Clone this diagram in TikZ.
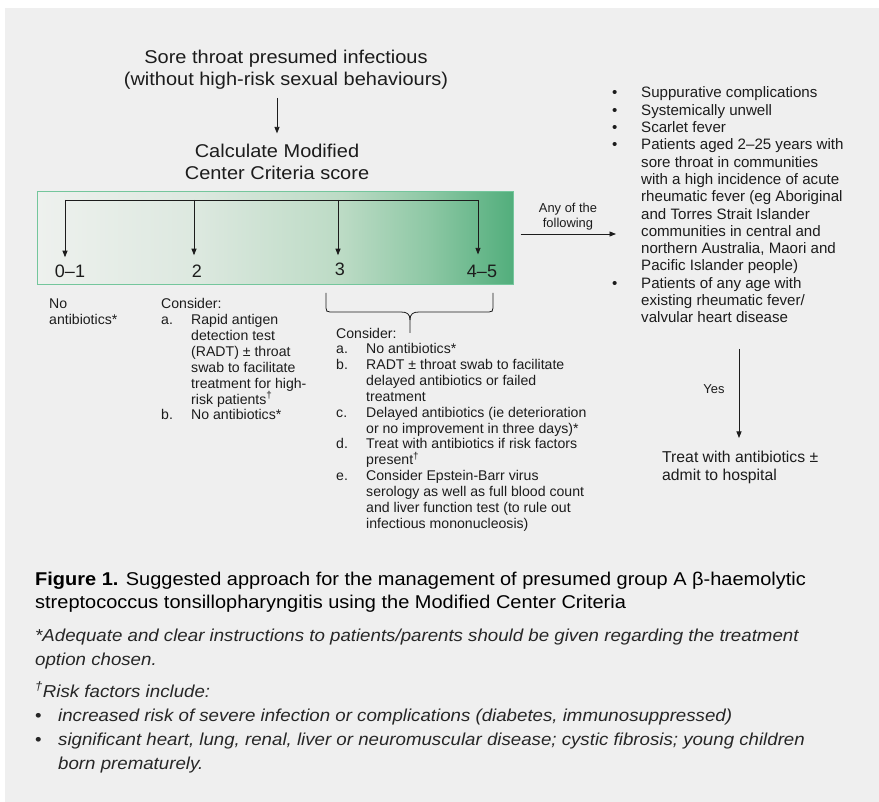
\documentclass[tikz,border=0pt]{standalone}
\usepackage{fontspec}
\setmainfont{Liberation Sans}
\newfontfamily\widefont[FakeStretch=1.08]{Liberation Sans}
\usetikzlibrary{arrows.meta}
\definecolor{bg}{HTML}{EFEFEF}
\definecolor{ink}{HTML}{1C1C1C}
\definecolor{gborder}{HTML}{74C69C}
\definecolor{gA}{HTML}{EEF1EE}
\definecolor{gB}{HTML}{DCE8DF}
\definecolor{gC}{HTML}{BCDBC5}
\definecolor{gD}{HTML}{8EC8A5}
\definecolor{gE}{HTML}{52AE7C}
\pgfdeclarehorizontalshading{greenfade}{100bp}{color(0bp)=(gA); color(25bp)=(gA); color(42bp)=(gB); color(57bp)=(gC); color(66bp)=(gD); color(75bp)=(gE); color(100bp)=(gE)}
\begin{document}
\begin{tikzpicture}[x=1pt,y=-1pt,
  every node/.style={inner sep=0pt, text=ink},
  arr/.style={-{Triangle[width=5pt,length=6.5pt]}, line width=0.8pt, draw=ink},
  lt/.style={anchor=base west, align=left},
  big/.style={font=\widefont\fontsize{18.5}{21.8}\selectfont},
  score/.style={font=\fontsize{18}{21.8}\selectfont},
  small/.style={font=\fontsize{12.9}{14.5}\selectfont},
  body/.style={font=\fontsize{14.1}{15.85}\selectfont},
  rlist/.style={font=\fontsize{15.1}{17.3}\selectfont},
  captxt/.style={font=\widefont\fontsize{18.5}{23}\selectfont},
  capi/.style={font=\widefont\fontsize{17.3}{24}\selectfont\itshape}]
\useasboundingbox (0,0) rectangle (879,802);
\fill[white] (0,0) rectangle (879,802);
\fill[bg] (5,8) rectangle (879,802);

% title and score box (base anchor = baseline of last line)
\node[big, align=center, anchor=base] (t1) at (286,85.8) {Sore throat presumed infectious\\(without high-risk sexual behaviours)};
\node[big, align=center, anchor=base] (c1) at (277,179.8) {Calculate Modified\\Center Criteria score};
\draw[arr, shorten <=8pt, shorten >=11pt] (c1.north |- t1.south) -- (c1.north);

\node[shade, shading=greenfade, draw=gborder, line width=1pt, minimum width=476pt, minimum height=93pt] (box) at (275,238.5) {};

\coordinate (h0) at (65,200);
\coordinate (h1) at (194,200);
\coordinate (h2) at (338,200);
\coordinate (h3) at (478,200);
\draw[line width=0.8pt, draw=ink] (h0) -- (h3);

\node[score, anchor=base] (s0) at (70,278) {0–1};
\node[score, anchor=base] (s1) at (197,278) {2};
\node[score, anchor=base] (s2) at (340,276) {3};
\node[score, anchor=base] (s3) at (482,278) {4–5};
\draw[arr, shorten >=8pt] (h0) -- (h0 |- s0.north);
\draw[arr, shorten >=10pt] (h1) -- (h1 |- s1.north);
\draw[arr, shorten >=8pt] (h2) -- (h2 |- s2.north);
\draw[arr, shorten >=11pt] (h3) -- (h3 |- s3.north);

% bracket under 3 and 4-5
\draw[line width=0.8pt, draw=ink] (326,293) -- (326,308) .. controls (326,311) and (327,312) .. (330,312) -- (401,312) .. controls (407,312) and (410,314) .. (410,320) -- (410,333);
\draw[line width=0.8pt, draw=ink] (493,293) -- (493,308) .. controls (493,311) and (492,312) .. (489,312) -- (419,312) .. controls (413,312) and (410,314) .. (410,320);

% score outcomes
\node[body, lt] (o0) at (49,324.85) {No\\antibiotics*};
\node[body, lt] (o2) at (161,419.95) {Consider:\\
\makebox[30pt][l]{a.}Rapid antigen\\
\hspace*{30pt}detection test\\
\hspace*{30pt}(RADT) ± throat\\
\hspace*{30pt}swab to facilitate\\
\hspace*{30pt}treatment for high-\\
\hspace*{30pt}risk patients\textsuperscript{†}\\
\makebox[30pt][l]{b.}No antibiotics*};
\node[body, lt] (o3) at (336,528.2) {Consider:\\
\makebox[30pt][l]{a.}No antibiotics*\\
\makebox[30pt][l]{b.}RADT ± throat swab to facilitate\\
\hspace*{30pt}delayed antibiotics or failed\\
\hspace*{30pt}treatment\\
\makebox[30pt][l]{c.}Delayed antibiotics (ie deterioration\\
\hspace*{30pt}or no improvement in three days)*\\
\makebox[30pt][l]{d.}Treat with antibiotics if risk factors\\
\hspace*{30pt}present\textsuperscript{†}\\
\makebox[30pt][l]{e.}Consider Epstein-Barr virus\\
\hspace*{30pt}serology as well as full blood count\\
\hspace*{30pt}and liver function test (to rule out\\
\hspace*{30pt}infectious mononucleosis)};

% right branch
\node[rlist, lt] (list) at (612,322.9) {\makebox[29pt][l]{•}Suppurative complications\\
\makebox[29pt][l]{•}Systemically unwell\\
\makebox[29pt][l]{•}Scarlet fever\\
\makebox[29pt][l]{•}Patients aged 2–25 years with\\
\hspace*{29pt}sore throat in communities\\
\hspace*{29pt}with a high incidence of acute\\
\hspace*{29pt}rheumatic fever (eg Aboriginal\\
\hspace*{29pt}and Torres Strait Islander\\
\hspace*{29pt}communities in central and\\
\hspace*{29pt}northern Australia, Maori and\\
\hspace*{29pt}Pacific Islander people)\\
\makebox[29pt][l]{•}Patients of any age with\\
\hspace*{29pt}existing rheumatic fever/\\
\hspace*{29pt}valvular heart disease};
\coordinate (la) at (616,234);
\draw[arr, shorten <=7pt] ([yshift=4.5pt]box.east) -- (la);
\node[small, align=center, anchor=base] (any) at (568,227.5) {Any of the\\following};

\node[font=\fontsize{15.75}{18}\selectfont, lt] (treat) at (662,481) {Treat with antibiotics ±\\admit to hospital};
\coordinate (ya) at (739,349);
\coordinate (yb) at (739,438);
\draw[arr] (ya) -- (yb);
\node[small, anchor=base] (yes) at (714,394) {Yes};

% caption
\node[captxt, lt, text=black] (fig) at (35,608) {\textbf{Figure 1.} Suggested approach for the management of presumed group A β-haemolytic\\streptococcus tonsillopharyngitis using the Modified Center Criteria};
\node[capi, lt, text=black!85] (n1) at (35,665) {*Adequate and clear instructions to patients/parents should be given regarding the treatment\\option chosen.};
\node[capi, lt, text=black!85] (n2) at (35,769) {\textsuperscript{†}Risk factors include:\\
\makebox[23pt][l]{\upshape•}increased risk of severe infection or complications (diabetes, immunosuppressed)\\
\makebox[23pt][l]{\upshape•}significant heart, lung, renal, liver or neuromuscular disease; cystic fibrosis; young children\\
\hspace*{23pt}born prematurely.};
\end{tikzpicture}
\end{document}
